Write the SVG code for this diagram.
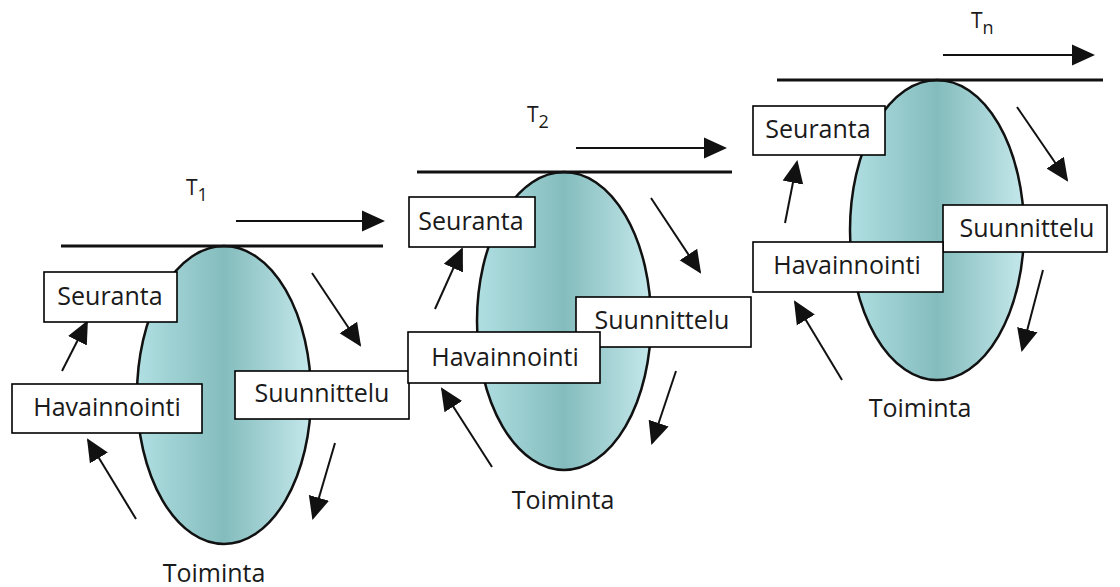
<svg xmlns="http://www.w3.org/2000/svg" width="1120" height="587" viewBox="0 0 1120 587">
<style>
.box{fill:#fff;stroke:#000;stroke-width:1.6}
.lbl{font-family:"Open Sans","Liberation Sans",sans-serif;font-size:25px;fill:#1a1a1a;text-anchor:middle}
.tl{font-family:"Open Sans","Liberation Sans",sans-serif;font-size:21px;fill:#1a1a1a}
.el{fill:url(#g);stroke:#111;stroke-width:2.5}
.tline{stroke:#111;stroke-width:3}
.arr{stroke:#111;stroke-width:2;fill:none;marker-end:url(#ah)}
</style>
<defs>
<linearGradient id="g" x1="0" y1="0" x2="1" y2="0">
<stop offset="0" stop-color="#b0dfe2"/>
<stop offset="0.5" stop-color="#84bcbd"/>
<stop offset="1" stop-color="#c4e8eb"/>
</linearGradient>
<marker id="ah" markerUnits="userSpaceOnUse" markerWidth="24" markerHeight="24" viewBox="0 0 24 24" refX="21" refY="12" orient="auto">
<path d="M0,1.5 L23,12 L0,22.5 Z" fill="#111"/>
</marker>
</defs>
<rect width="1120" height="587" fill="#fff"/>

<g id="cycle1">
<ellipse class="el" cx="224" cy="395" rx="87" ry="149"/>
<line class="tline" x1="61" y1="246" x2="383" y2="246"/>
</g>
<g id="cycle2">
<ellipse class="el" cx="564" cy="321" rx="87" ry="149"/>
<line class="tline" x1="417" y1="172" x2="732" y2="172"/>
</g>
<g id="cycle3">
<ellipse class="el" cx="937" cy="230" rx="87" ry="150"/>
<line class="tline" x1="777" y1="80" x2="1103" y2="80"/>
</g>

<g id="connectors">
<line class="arr" x1="236" y1="221" x2="383" y2="221"/>
<line class="arr" x1="62" y1="371" x2="87" y2="322"/>
<line class="arr" x1="312" y1="273" x2="360" y2="345"/>
<line class="arr" x1="335" y1="443" x2="313" y2="518"/>
<line class="arr" x1="136" y1="519" x2="88" y2="440"/>

<line class="arr" x1="576" y1="148" x2="725" y2="148"/>
<line class="arr" x1="435" y1="309" x2="462" y2="249"/>
<line class="arr" x1="651" y1="198" x2="700" y2="272"/>
<line class="arr" x1="676" y1="371" x2="652" y2="443"/>
<line class="arr" x1="492" y1="467" x2="442" y2="389"/>

<line class="arr" x1="943" y1="55" x2="1093" y2="55"/>
<line class="arr" x1="785" y1="223" x2="797" y2="162"/>
<line class="arr" x1="1017" y1="107" x2="1067" y2="180"/>
<line class="arr" x1="1043" y1="270" x2="1022" y2="350"/>
<line class="arr" x1="842" y1="380" x2="795" y2="302"/>
</g>

<g id="t1"><text class="tl" x="186" y="195">T<tspan font-size="18" dy="6">1</tspan></text></g>
<g id="t2"><text class="tl" x="527" y="122">T<tspan font-size="18" dy="6">2</tspan></text></g>
<g id="tn"><text class="tl" x="971" y="28">T<tspan font-size="18" dy="6">n</tspan></text></g>

<g id="seuranta1"><rect class="box" x="44" y="272" width="133" height="50"/><text class="lbl" x="110" y="305">Seuranta</text></g>
<g id="havainnointi1"><rect class="box" x="12" y="384" width="190" height="49"/><text class="lbl" x="107" y="416">Havainnointi</text></g>
<g id="suunnittelu1"><rect class="box" x="235" y="371" width="174" height="48"/><text class="lbl" x="322" y="402">Suunnittelu</text></g>
<g id="toiminta1"><text class="lbl" x="214" y="582">Toiminta</text></g>

<g id="seuranta2"><rect class="box" x="409" y="197" width="126" height="50"/><text class="lbl" x="471" y="230">Seuranta</text></g>
<g id="suunnittelu2"><rect class="box" x="576" y="297" width="175" height="50"/><text class="lbl" x="662" y="329">Suunnittelu</text></g>
<g id="havainnointi2"><rect class="box" x="408" y="332" width="192" height="51"/><text class="lbl" x="505" y="366">Havainnointi</text></g>
<g id="toiminta2"><text class="lbl" x="563" y="509">Toiminta</text></g>

<g id="seuranta3"><rect class="box" x="753" y="106" width="132" height="49"/><text class="lbl" x="818" y="138">Seuranta</text></g>
<g id="suunnittelu3"><rect class="box" x="943" y="205" width="164" height="47"/><text class="lbl" x="1027" y="237">Suunnittelu</text></g>
<g id="havainnointi3"><rect class="box" x="753" y="242" width="190" height="50"/><text class="lbl" x="847" y="274">Havainnointi</text></g>
<g id="toiminta3"><text class="lbl" x="920" y="417">Toiminta</text></g>
</svg>
